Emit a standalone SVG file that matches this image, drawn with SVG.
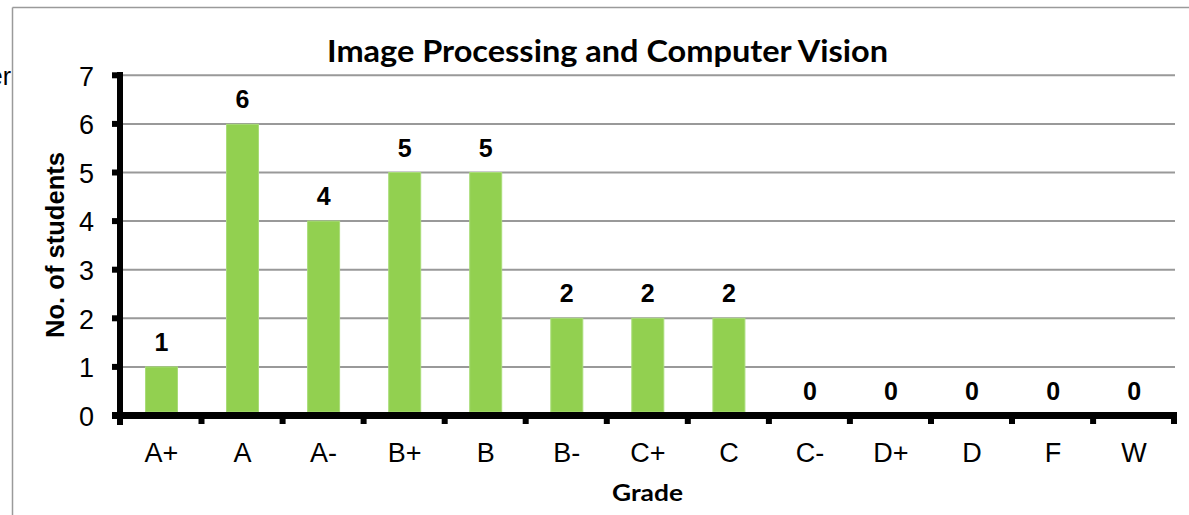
<svg xmlns="http://www.w3.org/2000/svg" width="1189" height="515" viewBox="0 0 1189 515">
<style>
.grid{stroke:#999999;stroke-width:2}
.bar{fill:#92D050;stroke:#A9DC78;stroke-width:1}
.val{font-family:"Liberation Sans",Arial,sans-serif;font-weight:bold;font-size:25px;text-anchor:middle;fill:#000}
.cat{font-family:"Liberation Sans",Arial,sans-serif;font-size:27px;text-anchor:middle;fill:#000}
.ytl{font-family:"Liberation Sans",Arial,sans-serif;font-size:27px;text-anchor:end;fill:#000}
.ttl{font-family:Lato,"Open Sans",sans-serif;font-weight:bold;fill:#000}
.axis{fill:#000}
</style>
<rect width="1189" height="515" fill="#ffffff"/>
<g id="frame">
<line x1="12.5" y1="7.5" x2="1189" y2="7.5" stroke="#9a9a9a" stroke-width="1.5"/>
<line x1="12.5" y1="7.5" x2="12.5" y2="515" stroke="#9a9a9a" stroke-width="1.5"/>
<text x="11" y="85" font-family="Liberation Sans,Arial,sans-serif" font-size="25" text-anchor="end">er</text>
</g>
<g id="title">
<text class="ttl" x="327" y="61.5" font-size="30" textLength="561" lengthAdjust="spacingAndGlyphs">Image Processing and Computer Vision</text>
</g>
<g id="gridlines">
<line class="grid" x1="123" y1="75.3" x2="1175" y2="75.3"/>
<line class="grid" x1="123" y1="123.9" x2="1175" y2="123.9"/>
<line class="grid" x1="123" y1="172.5" x2="1175" y2="172.5"/>
<line class="grid" x1="123" y1="221.1" x2="1175" y2="221.1"/>
<line class="grid" x1="123" y1="269.7" x2="1175" y2="269.7"/>
<line class="grid" x1="123" y1="318.3" x2="1175" y2="318.3"/>
<line class="grid" x1="123" y1="366.9" x2="1175" y2="366.9"/>
</g>
<g id="bars">
<rect class="bar" x="145.5" y="366.9" width="32" height="45.1"/>
<rect class="bar" x="226.5" y="124.3" width="32" height="287.7"/>
<rect class="bar" x="307.6" y="221.1" width="32" height="190.9"/>
<rect class="bar" x="388.7" y="172.5" width="32" height="239.5"/>
<rect class="bar" x="469.7" y="172.5" width="32" height="239.5"/>
<rect class="bar" x="550.8" y="318.3" width="32" height="93.7"/>
<rect class="bar" x="631.8" y="318.3" width="32" height="93.7"/>
<rect class="bar" x="712.9" y="318.3" width="32" height="93.7"/>
</g>
<g id="axes">
<rect class="axis" x="117" y="72" width="6" height="353"/>
<rect class="axis" x="112" y="412" width="1065" height="7"/>
<rect class="axis" x="112" y="72.3" width="6" height="6"/>
<rect class="axis" x="112" y="120.9" width="6" height="6"/>
<rect class="axis" x="112" y="169.5" width="6" height="6"/>
<rect class="axis" x="112" y="218.1" width="6" height="6"/>
<rect class="axis" x="112" y="266.7" width="6" height="6"/>
<rect class="axis" x="112" y="315.3" width="6" height="6"/>
<rect class="axis" x="112" y="363.9" width="6" height="6"/>
<rect class="axis" x="198.5" y="418" width="6" height="6"/>
<rect class="axis" x="279.6" y="418" width="6" height="6"/>
<rect class="axis" x="360.6" y="418" width="6" height="6"/>
<rect class="axis" x="441.7" y="418" width="6" height="6"/>
<rect class="axis" x="522.7" y="418" width="6" height="6"/>
<rect class="axis" x="603.8" y="418" width="6" height="6"/>
<rect class="axis" x="684.8" y="418" width="6" height="6"/>
<rect class="axis" x="765.9" y="418" width="6" height="6"/>
<rect class="axis" x="846.9" y="418" width="6" height="6"/>
<rect class="axis" x="928" y="418" width="6" height="6"/>
<rect class="axis" x="1009" y="418" width="6" height="6"/>
<rect class="axis" x="1090.1" y="418" width="6" height="6"/>
<rect class="axis" x="1171" y="418" width="6" height="6"/>
</g>
<g id="y-tick-labels">
<text class="ytl" x="94" y="85.5">7</text>
<text class="ytl" x="94" y="134.1">6</text>
<text class="ytl" x="94" y="182.7">5</text>
<text class="ytl" x="94" y="231.3">4</text>
<text class="ytl" x="94" y="279.9">3</text>
<text class="ytl" x="94" y="328.5">2</text>
<text class="ytl" x="94" y="377.1">1</text>
<text class="ytl" x="94" y="425.7">0</text>
</g>
<g id="value-labels">
<text class="val" x="161.5" y="350.6">1</text>
<text class="val" x="242.5" y="108">6</text>
<text class="val" x="323.6" y="204.8">4</text>
<text class="val" x="404.7" y="156.5">5</text>
<text class="val" x="485.7" y="156.5">5</text>
<text class="val" x="566.8" y="302">2</text>
<text class="val" x="647.8" y="302">2</text>
<text class="val" x="728.9" y="302">2</text>
<text class="val" x="809.9" y="399.5">0</text>
<text class="val" x="891" y="399.5">0</text>
<text class="val" x="972" y="399.5">0</text>
<text class="val" x="1053.1" y="399.5">0</text>
<text class="val" x="1134.1" y="399.5">0</text>
</g>
<g id="category-labels">
<text class="cat" x="161.5" y="462">A+</text>
<text class="cat" x="242.5" y="462">A</text>
<text class="cat" x="323.6" y="462">A-</text>
<text class="cat" x="404.7" y="462">B+</text>
<text class="cat" x="485.7" y="462">B</text>
<text class="cat" x="566.8" y="462">B-</text>
<text class="cat" x="647.8" y="462">C+</text>
<text class="cat" x="728.9" y="462">C</text>
<text class="cat" x="809.9" y="462">C-</text>
<text class="cat" x="891" y="462">D+</text>
<text class="cat" x="972" y="462">D</text>
<text class="cat" x="1053.1" y="462">F</text>
<text class="cat" x="1134.1" y="462">W</text>
</g>
<g id="axis-titles">
<text class="ttl" x="612" y="501" font-size="23.5" textLength="71" lengthAdjust="spacingAndGlyphs">Grade</text>
<text x="0" y="0" transform="translate(64 245) rotate(-90)" font-family="Liberation Sans,Arial,sans-serif" font-weight="bold" font-size="25" text-anchor="middle" textLength="186" lengthAdjust="spacingAndGlyphs">No. of students</text>
</g>
</svg>
